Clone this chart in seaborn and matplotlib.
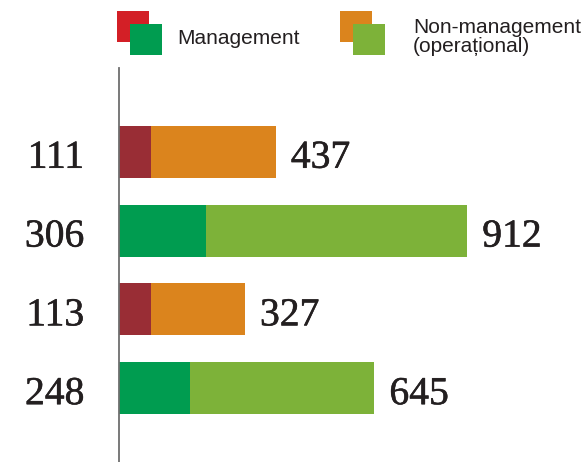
import matplotlib
matplotlib.use("Agg")
import matplotlib.pyplot as plt
from matplotlib.patches import Rectangle
import matplotlib.patheffects as pe
import seaborn as sns
import pandas as pd

# data
cats = ["r1", "r2", "r3", "r4"]
management = [111, 306, 113, 248]
non_management = [437, 912, 327, 645]
mgmt_colors = ["#992D35", "#009C50", "#992D35", "#009C50"]
nonmgmt_colors = ["#DB841D", "#7DB239", "#DB841D", "#7DB239"]
legend_labels = ["Management", "Non-management\n(operațional)"]

totals = [m + n for m, n in zip(management, non_management)]
df = pd.DataFrame({"cat": cats, "mgmt": management, "non": non_management, "total": totals})

W, H = 588, 462
fig = plt.figure(figsize=(W / 100, H / 100), dpi=100)
ax = fig.add_axes([119 / W, 0, (W - 119) / W, 394 / H])

sns.barplot(data=df, x="total", y="cat", hue="cat", order=cats, hue_order=cats,
            palette=dict(zip(cats, nonmgmt_colors)), orient="h", width=52 / 79,
            saturation=1, legend=False, ax=ax, linewidth=0)
sns.barplot(data=df, x="mgmt", y="cat", hue="cat", order=cats, hue_order=cats,
            palette=dict(zip(cats, mgmt_colors)), orient="h", width=52 / 79,
            saturation=1, legend=False, ax=ax, linewidth=0)

ax.set_xlim(0, (W - 119) / 348 * 1218)
ax.set_ylim(3 + (462 - 388) / 79, -84 / 79)
for s in ["top", "right", "bottom"]:
    ax.spines[s].set_visible(False)
ax.spines["left"].set_color("#6E6E6E")
ax.spines["left"].set_linewidth(1.3)
ax.set_xticks([])
ax.set_yticks([])
ax.set_xlabel("")
ax.set_ylabel("")

numfont = dict(family="Liberation Serif", size=28.5, color="#231F20",
               path_effects=[pe.withStroke(linewidth=0.4, foreground="#231F20")])
for i, (m, t, n) in enumerate(zip(management, totals, non_management)):
    ax.annotate(str(m), xy=(0, i), xytext=(-25, -11.5), textcoords="offset points",
                ha="right", va="baseline", annotation_clip=False, **numfont)
    ax.annotate(str(n), xy=(t, i), xytext=(11, -11.5), textcoords="offset points",
                ha="left", va="baseline", annotation_clip=False, **numfont)

# legend
def sq(x, y, c):
    fig.add_artist(Rectangle((x / W, 1 - (y + 31) / H), 32 / W, 31 / H,
                             transform=fig.transFigure, color=c, lw=0))

sq(117, 11, "#D31F26")
sq(130, 24, "#009C50")
sq(340, 11, "#DB841D")
sq(353, 24, "#7DB239")
fig.text(177 / W, 1 - 39 / H, legend_labels[0], ha="left", va="center",
         family="Liberation Sans", size=15, color="#231F20")
fig.text(413 / W, 1 - 37 / H, legend_labels[1], ha="left", va="center",
         family="Liberation Sans", size=15, color="#231F20", linespacing=1.0)

fig.savefig("out.png", dpi=100)
